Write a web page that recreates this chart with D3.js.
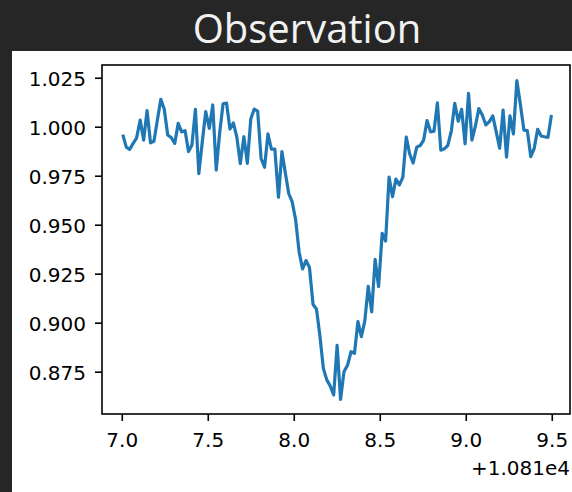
<!DOCTYPE html>
<meta charset="utf-8" />
<style>
  body { margin: 0; background: #262626; }
  .tick text { font-family: "DejaVu Sans", sans-serif; font-size: 20px; fill: #000; }
  .tick line { stroke: #000; stroke-width: 1.6px; }
</style>
<body>
<script src="https://d3js.org/d3.v7.min.js"></script>
<script>
  // time offsets from 1.081e4 (one sample every ~0.02)
  var times = [
    7.006, 7.026, 7.046, 7.066, 7.086, 7.107, 7.127, 7.147, 7.167, 7.187,
    7.207, 7.227, 7.247, 7.267, 7.287, 7.308, 7.328, 7.348, 7.368, 7.388,
    7.408, 7.428, 7.448, 7.468, 7.488, 7.509, 7.529, 7.549, 7.569, 7.589,
    7.609, 7.629, 7.649, 7.669, 7.689, 7.710, 7.730, 7.750, 7.770, 7.790,
    7.810, 7.830, 7.850, 7.870, 7.890, 7.911, 7.931, 7.951, 7.971, 7.991,
    8.011, 8.031, 8.051, 8.071, 8.091, 8.112, 8.132, 8.152, 8.172, 8.192,
    8.212, 8.232, 8.252, 8.272, 8.292, 8.313, 8.333, 8.353, 8.373, 8.393,
    8.413, 8.433, 8.453, 8.473, 8.493, 8.514, 8.534, 8.554, 8.574, 8.594,
    8.614, 8.634, 8.654, 8.674, 8.694, 8.715, 8.735, 8.755, 8.775, 8.795,
    8.815, 8.835, 8.855, 8.875, 8.895, 8.916, 8.936, 8.956, 8.976, 8.996,
    9.016, 9.036, 9.056, 9.076, 9.096, 9.117, 9.137, 9.157, 9.177, 9.197,
    9.217, 9.237, 9.257, 9.277, 9.297, 9.318, 9.338, 9.358, 9.378, 9.398,
    9.418, 9.438, 9.458, 9.478, 9.498
  ];

  // normalised flux
  var flux = [
    0.9960, 0.9896, 0.9884, 0.9915, 0.9942, 1.0034, 0.9932, 1.0082, 0.9918, 0.9926,
    1.0034, 1.0140, 1.0089, 0.9958, 0.9945, 0.9915, 1.0017, 0.9974, 0.9980, 0.9873,
    0.9907, 1.0089, 0.9761, 0.9922, 1.0077, 0.9992, 1.0111, 0.9779, 0.9968, 1.0117,
    1.0121, 0.9988, 1.0019, 0.9947, 0.9812, 0.9949, 0.9813, 1.0039, 1.0090, 1.0080,
    0.9838, 0.9793, 0.9963, 0.9885, 0.9886, 0.9640, 0.9873, 0.9764, 0.9658, 0.9616,
    0.9524, 0.9361, 0.9274, 0.9317, 0.9283, 0.9093, 0.9070, 0.8932, 0.8767, 0.8708,
    0.8677, 0.8631, 0.8884, 0.8609, 0.8750, 0.8784, 0.8852, 0.8844, 0.9005, 0.8929,
    0.9009, 0.9185, 0.9055, 0.9323, 0.9184, 0.9456, 0.9417, 0.9743, 0.9643, 0.9733,
    0.9703, 0.9742, 0.9947, 0.9861, 0.9815, 0.9896, 0.9904, 0.9932, 1.0031, 0.9974,
    0.9977, 1.0122, 0.9880, 0.9887, 0.9904, 0.9978, 1.0119, 1.0028, 1.0089, 0.9913,
    1.0170, 0.9931, 1.0004, 1.0093, 1.0060, 1.0009, 1.0026, 1.0055, 0.9974, 0.9890,
    1.0085, 0.9845, 1.0055, 0.9963, 1.0235, 1.0111, 0.9983, 0.9980, 0.9847, 0.9890,
    0.9987, 0.9953, 0.9949, 0.9946, 1.0060
  ];

  var xTicks = [7.0, 7.5, 8.0, 8.5, 9.0, 9.5];
  var yTicks = [0.875, 0.9, 0.925, 0.95, 0.975, 1.0, 1.025];
  var offsetLabel = "+1.081e4";
  var title = "Observation";

  var W = 572, H = 492;
  var plot = { left: 102, top: 65, right: 570, bottom: 414 };

  var svg = d3.select("body").append("svg")
    .attr("width", W)
    .attr("height", H);

  svg.append("rect")
    .attr("width", W).attr("height", H)
    .attr("fill", "#262626");

  // white figure panel
  svg.append("rect")
    .attr("x", 12).attr("y", 51)
    .attr("width", W - 12).attr("height", H - 51)
    .attr("fill", "#fff");

  svg.append("text")
    .attr("x", 307).attr("y", 43)
    .attr("text-anchor", "middle")
    .style("font-family", "'Open Sans', sans-serif")
    .style("font-size", "40px")
    .style("fill", "#f2f2f2")
    .text(title);

  var x = d3.scaleLinear().domain([6.885, 9.606]).range([plot.left, plot.right]);
  var y = d3.scaleLinear().domain([0.8534, 1.0315]).range([plot.bottom, plot.top]);

  var line = d3.line()
    .x(function (d, i) { return x(times[i]); })
    .y(function (d) { return y(d); });

  svg.append("path")
    .datum(flux)
    .attr("fill", "none")
    .attr("stroke", "#1f77b4")
    .attr("stroke-width", 3.2)
    .attr("stroke-linejoin", "round")
    .attr("d", line);

  // x axis
  var gx = svg.append("g")
    .attr("transform", "translate(0," + plot.bottom + ")")
    .call(d3.axisBottom(x)
      .tickValues(xTicks)
      .tickFormat(d3.format(".1f"))
      .tickSizeInner(7).tickSizeOuter(0)
      .tickPadding(12));
  gx.select(".domain").remove();

  // y axis
  var gy = svg.append("g")
    .attr("transform", "translate(" + plot.left + ",0)")
    .call(d3.axisLeft(y)
      .tickValues(yTicks)
      .tickFormat(d3.format(".3f"))
      .tickSizeInner(7).tickSizeOuter(0)
      .tickPadding(9));
  gy.select(".domain").remove();
  gy.selectAll(".tick text").attr("dy", "0.38em");

  // frame
  svg.append("rect")
    .attr("x", plot.left).attr("y", plot.top)
    .attr("width", plot.right - plot.left)
    .attr("height", plot.bottom - plot.top)
    .attr("fill", "none")
    .attr("stroke", "#000")
    .attr("stroke-width", 1.6);

  svg.append("text")
    .attr("x", plot.right).attr("y", 475)
    .attr("text-anchor", "end")
    .style("font-family", "'DejaVu Sans', sans-serif")
    .style("font-size", "20px")
    .text(offsetLabel);
</script>
</body>
